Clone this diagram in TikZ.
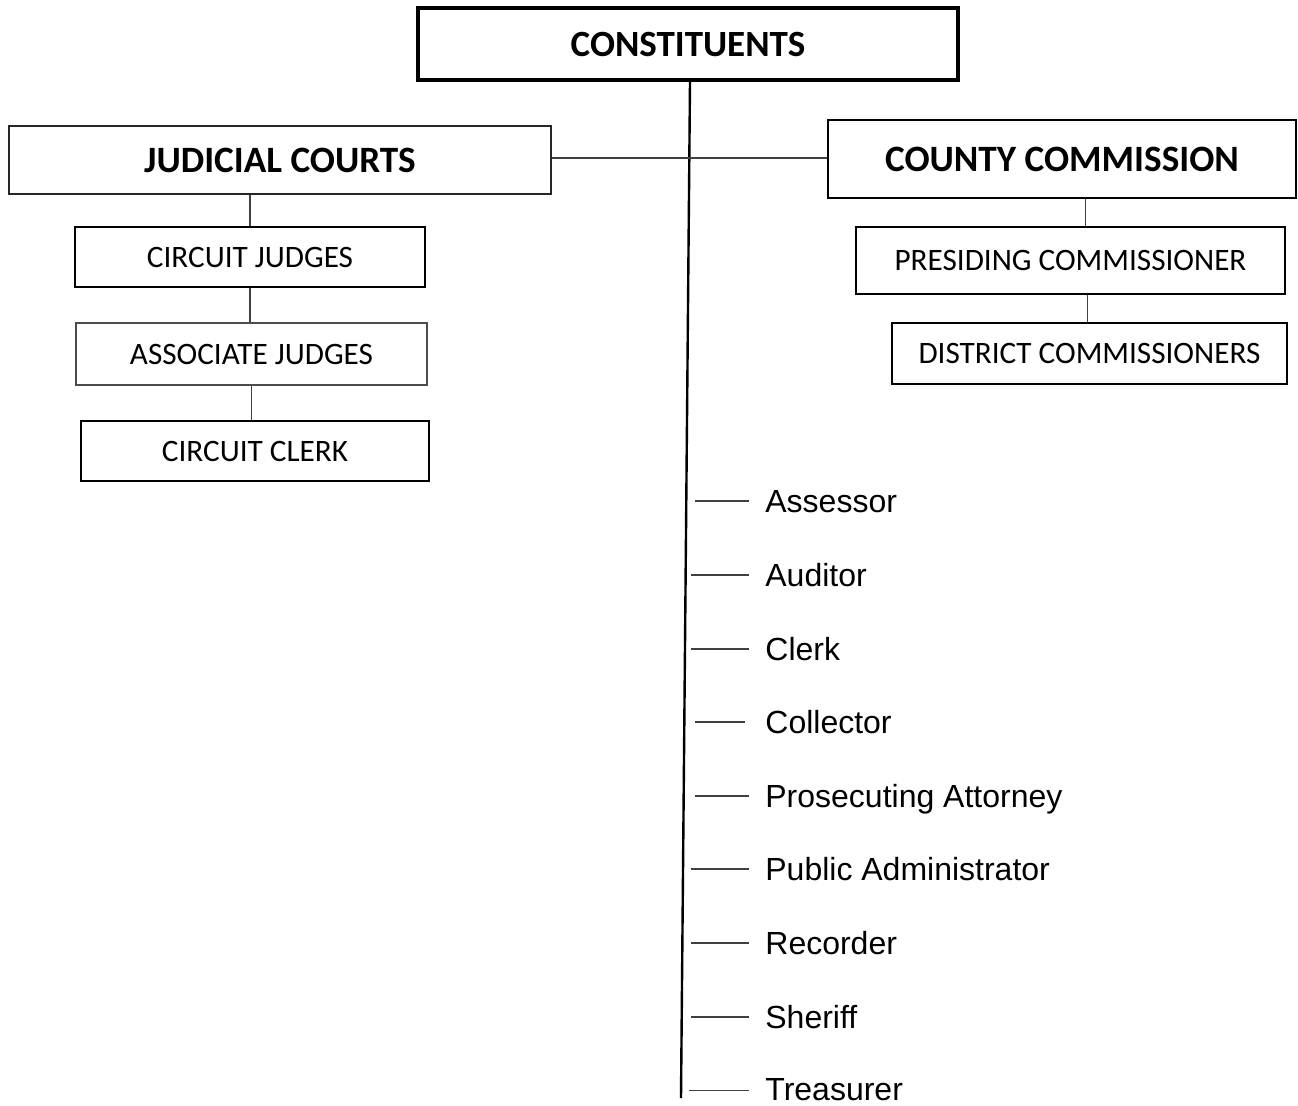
\documentclass[tikz,border=0pt]{standalone}
\usepackage{fontspec}
\setmainfont{Carlito}
\newfontfamily\arialfont{Liberation Sans}

\begin{document}
\begin{tikzpicture}[x=0.5pt,y=-0.5pt,line join=miter,
    topbox/.style={draw,line width=2pt,inner sep=0pt,minimum width=270pt,minimum height=36pt,font=\fontsize{18.5}{22}\selectfont\bfseries},
    headbox/.style={draw=black!85,line width=1pt,inner sep=0pt,font=\fontsize{18.6}{22}\selectfont\bfseries},
    subbox/.style={draw,line width=0.8pt,inner sep=0pt,font=\fontsize{15.6}{18}\selectfont},
    office/.style={inner sep=0pt,anchor=base west,font=\arialfont\fontsize{16}{19}\selectfont},
    link/.style={draw=black!75,line width=0.7pt},
    trunk/.style={draw,line width=1.2pt}]
    \useasboundingbox (0,0) rectangle (1298,1105);
    \node[topbox] (constituents) at (688,44) {CONSTITUENTS};
    \node[headbox,minimum width=271pt,minimum height=34pt] (judicial) at (280,160) {JUDICIAL COURTS};
    \node[headbox,draw=black,minimum width=234pt,minimum height=39pt] (county) at (1062,159) {COUNTY COMMISSION};
    \node[subbox,minimum width=175pt,minimum height=30pt] (cjudges) at (250,257) {CIRCUIT JUDGES};
    \node[subbox,draw=black!70,minimum width=175.5pt,minimum height=31pt] (ajudges) at (251.5,354) {ASSOCIATE JUDGES};
    \node[subbox,minimum width=174pt,minimum height=30pt] (cclerk) at (255,451) {CIRCUIT CLERK};
    \node[subbox,minimum width=214.5pt,minimum height=33.5pt] (presiding) at (1070.5,260.5) {PRESIDING COMMISSIONER};
    \node[subbox,minimum width=197.5pt,minimum height=30.5pt] (district) at (1089.5,353.5) {DISTRICT COMMISSIONERS};
    \coordinate (trunkend) at (681,1098);
    \draw[trunk] ([xshift=1pt]constituents.south) -- (trunkend);
    \draw[link] ([yshift=1pt]judicial.east) -- ([yshift=1pt]judicial.east -| county.west);
    \draw[link] (cjudges.north |- judicial.south) -- (cjudges.north);
    \draw[link] (cjudges.south) -- (cjudges.south |- ajudges.north);
    \draw[link] (ajudges.south) -- (ajudges.south |- cclerk.north);
    \draw[link] ([xshift=-2pt]district.north |- county.south) -- ([xshift=-2pt]district.north |- presiding.north);
    \draw[link] ([xshift=-1pt]district.north |- presiding.south) -- ([xshift=-1pt]district.north);
    \node[office] (assessor) at (765,512.5) {Assessor};
    \node[office] (auditor) at (765,586.5) {Auditor};
    \node[office] (clerk) at (765,660.5) {Clerk};
    \node[office] (collector) at (765,733.5) {Collector};
    \node[office] (prosecuting) at (765,807.5) {Prosecuting Attorney};
    \node[office] (publicadmin) at (765,880.5) {Public Administrator};
    \node[office] (recorder) at (765,954.5) {Recorder};
    \node[office] (sheriff) at (765,1028.5) {Sheriff};
    \node[office] (treasurer) at (765,1100) {Treasurer};
    \draw[link] ([shift={(-8pt,5.7pt)}]assessor.base west) -- ++(-27pt,0);
    \draw[link] ([shift={(-8pt,5.7pt)}]auditor.base west) -- ++(-29pt,0);
    \draw[link] ([shift={(-8pt,5.7pt)}]clerk.base west) -- ++(-29pt,0);
    \draw[link] ([shift={(-10pt,5.7pt)}]collector.base west) -- ++(-25pt,0);
    \draw[link] ([shift={(-8pt,5.7pt)}]prosecuting.base west) -- ++(-27pt,0);
    \draw[link] ([shift={(-8pt,5.7pt)}]publicadmin.base west) -- ++(-29pt,0);
    \draw[link] ([shift={(-8pt,5.7pt)}]recorder.base west) -- ++(-29pt,0);
    \draw[link] ([shift={(-8pt,5.7pt)}]sheriff.base west) -- ++(-29pt,0);
    \draw[link] ([shift={(-8pt,4.9pt)}]treasurer.base west) -- ++(-30pt,0);
\end{tikzpicture}
\end{document}
